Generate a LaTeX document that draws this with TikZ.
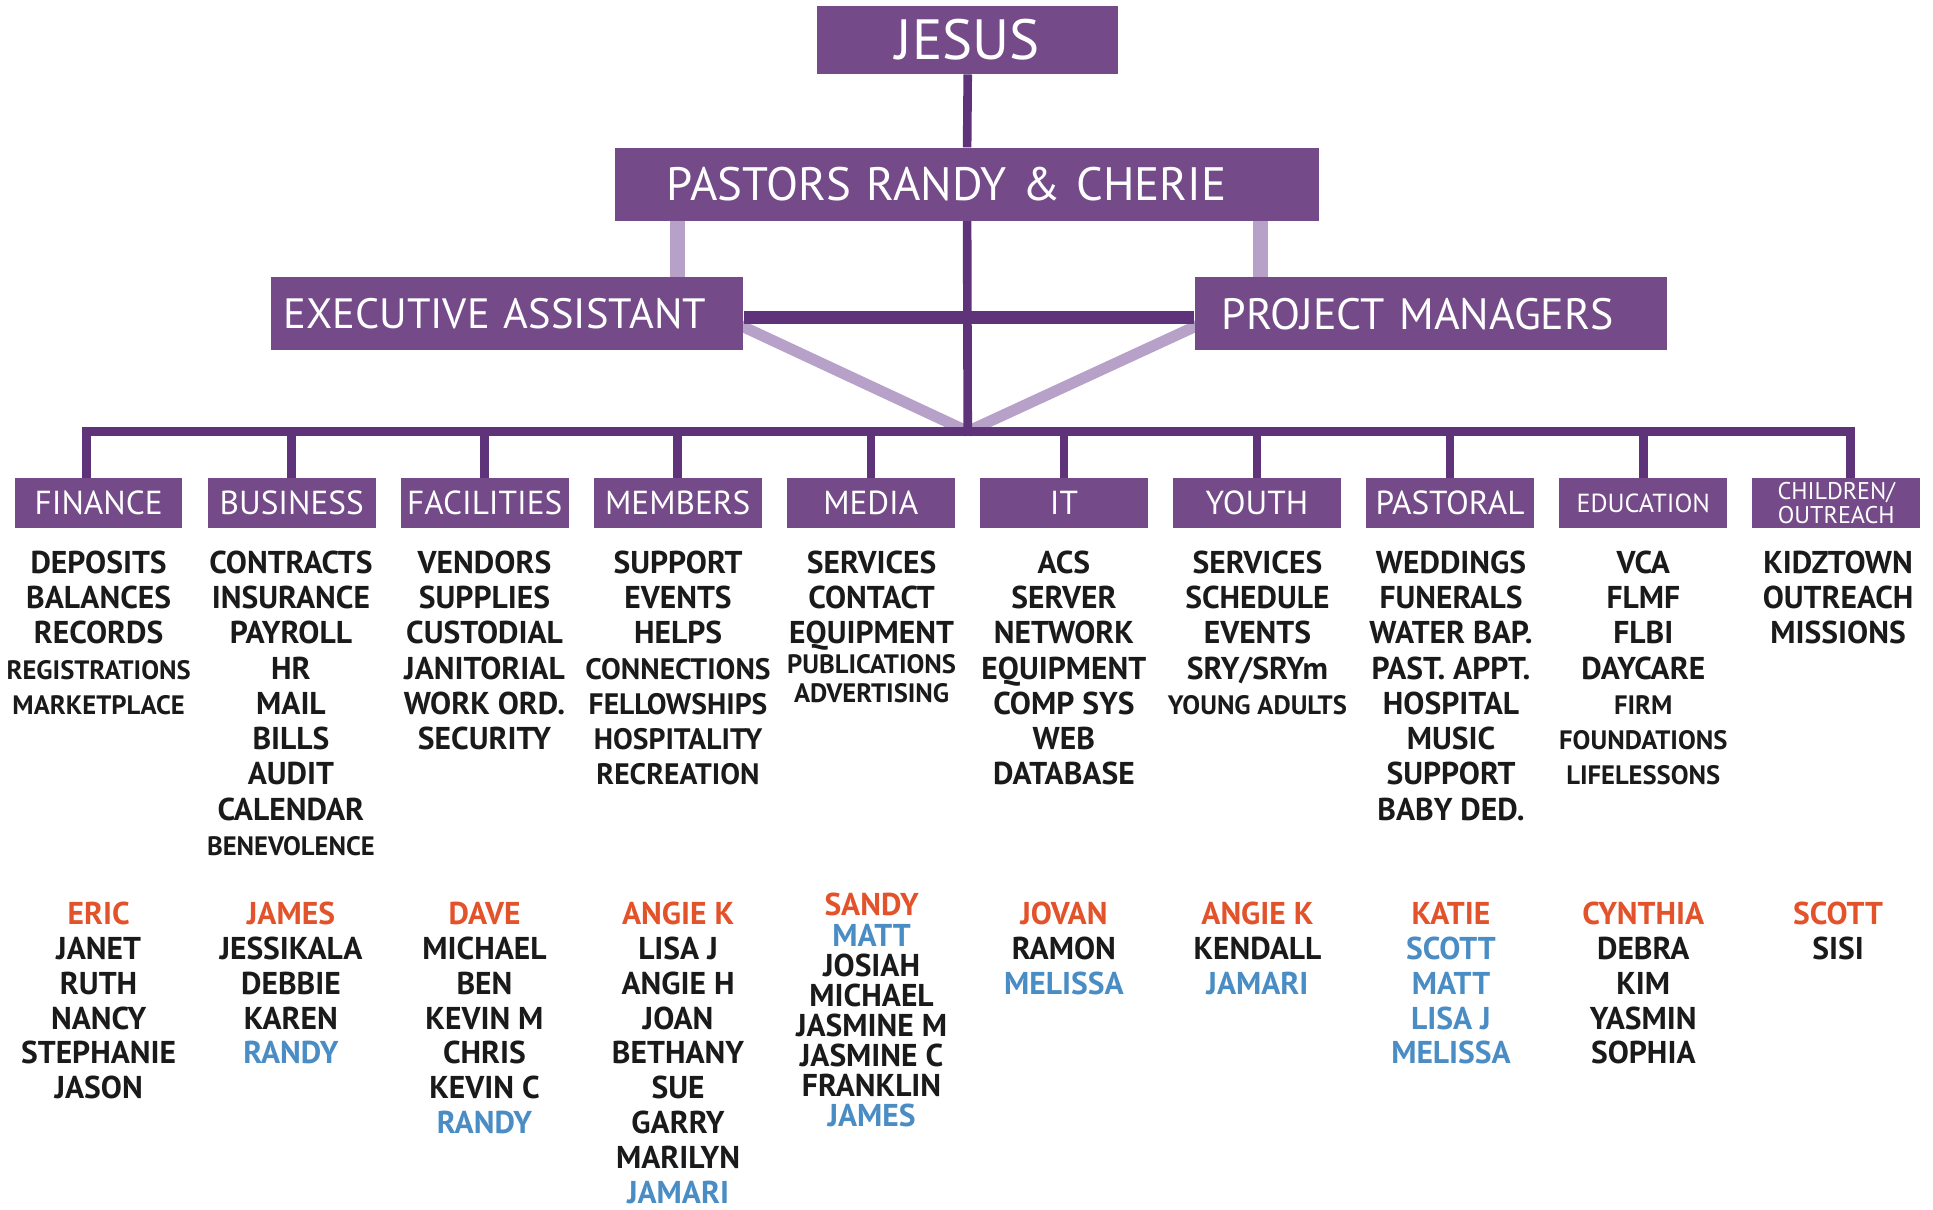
\documentclass[tikz,border=0pt]{standalone}
\usepackage{fontspec}
\setmainfont{PT Sans}
\usepackage{xcolor}
\usepackage{tikz}
\usetikzlibrary{backgrounds}

\definecolor{boxpurple}{HTML}{744A89}
\definecolor{darkpurple}{HTML}{5E3379}
\definecolor{lightpurple}{HTML}{B7A1C9}
\definecolor{leadred}{HTML}{E2532B}
\definecolor{helpblue}{HTML}{4A8CC4}
\definecolor{inkblack}{HTML}{1A1A1A}

\newcommand{\leadname}[1]{\textcolor{leadred}{#1}}
\newcommand{\helpname}[1]{\textcolor{helpblue}{#1}}
\newcommand{\smitem}[1]{{\fontsize{10.8}{10.8}\selectfont #1}}
\newcommand{\mditem}[1]{{\fontsize{12}{12}\selectfont #1}}

\tikzset{
  topbox/.style={fill=boxpurple, text=white, inner ysep=0pt, minimum height=29.5pt},
  deptbox/.style={fill=boxpurple, text=white, inner sep=0pt, minimum width=68pt, minimum height=20pt, font=\fontsize{13.5}{13.5}\selectfont},
  item/.style={anchor=base, inner sep=0pt, text=inkblack, font=\bfseries\fontsize{12.8}{12.8}\selectfont},
  darkline/.style={draw=darkpurple, line width=3.5pt},
  lightline/.style={draw=lightpurple, line width=6pt},
}

\begin{document}
\begin{tikzpicture}[x=0.5pt, y=-0.5pt]
		\useasboundingbox (0,0) rectangle (1568,981);
		
		% top of the chart
		\node[topbox, minimum width=122pt, minimum height=27.5pt, inner xsep=0pt, font=\fontsize{23}{23}\selectfont] (jesus) at (785,32.5) {JESUS};
		\node[topbox, text width=243.5pt, inner xsep=21pt, align=left, font=\fontsize{19}{19}\selectfont] (pastors) at (784.5,149.5) {PASTORS RANDY \& CHERIE};
		\node[topbox, text width=181.5pt, inner xsep=5pt, align=left, font=\fontsize{17.2}{17.2}\selectfont] (exec) at (411.5,254.5) {EXECUTIVE ASSISTANT};
		\node[topbox, text width=169.5pt, inner xsep=11pt, align=left, font=\fontsize{17.8}{17.8}\selectfont] (projects) at (1160.5,254.5) {PROJECT MANAGERS};
		
		% departments
		\foreach \dept/\lbl [count=\i from 0] in {fin/FINANCE, busi/BUSINESS, fac/FACILITIES, mem/MEMBERS, med/MEDIA, it/IT, you/YOUTH, pas/PASTORAL}
			\node[deptbox] (\dept) at (80+156.6*\i,408) {\lbl};
		\node[deptbox, font=\fontsize{10.6}{10.6}\selectfont] (edu) at (1333,408) {EDUCATION};
		\node[deptbox, align=center, font=\fontsize{9.8}{9.5}\selectfont] (kid) at (1489.5,408) {CHILDREN/\\OUTREACH};
		
		\coordinate (hub) at (785,350);
		\coordinate (busL) at (70,350);
		\coordinate (busR) at (1501,350);
		
		\begin{scope}[on background layer]
			\draw[lightline] ([xshift=-27pt]exec.north east) -- ([xshift=-27pt]exec.north east |- pastors.south);
			\draw[lightline] ([xshift=27pt]projects.north west) -- ([xshift=27pt]projects.north west |- pastors.south);
			\draw[lightline, line width=4.5pt] ([xshift=-3pt,yshift=-4pt]exec.east) -- (hub);
			\draw[lightline, line width=4.5pt] ([xshift=3pt,yshift=-4pt]projects.west) -- (hub);
			\draw[darkline, line width=5pt] ([yshift=-1.5pt]exec.east) -- ([yshift=-1.5pt]projects.west);
			\draw[darkline] (jesus.south) -- (pastors.north);
			\draw[darkline] (pastors.south) -- (hub);
			\draw[darkline, line cap=rect] (busL) -- (busR);
			\draw[darkline] (busL) -- (busL |- fin.north);
			\foreach \d in {busi,fac,mem,med,it,you,pas,edu}
				\draw[darkline] (\d.north) -- (\d.north |- hub);
			\draw[darkline] (busR) -- (busR |- kid.north);
		\end{scope}
		
		% duties
		\foreach \t [count=\k from 0] in {DEPOSITS,BALANCES,RECORDS,\smitem{REGISTRATIONS},\smitem{MARKETPLACE}}
			\node[item] (fin-t\k) at (80,465+28.6*\k) {\t};
		\foreach \t [count=\k from 0] in {CONTRACTS,INSURANCE,PAYROLL,HR,MAIL,BILLS,AUDIT,CALENDAR,\smitem{BENEVOLENCE}}
			\node[item] (busi-t\k) at (236,465+28.6*\k) {\t};
		\foreach \t [count=\k from 0] in {VENDORS,SUPPLIES,CUSTODIAL,JANITORIAL,WORK ORD.,SECURITY}
			\node[item] (fac-t\k) at (393,465+28.6*\k) {\t};
		\foreach \t [count=\k from 0] in {SUPPORT,EVENTS,HELPS,\mditem{CONNECTIONS},\mditem{FELLOWSHIPS},\mditem{HOSPITALITY},\mditem{RECREATION}}
			\node[item] (mem-t\k) at (550,465+28.6*\k) {\t};
		\foreach \t [count=\k from 0] in {SERVICES,CONTACT,EQUIPMENT}
			\node[item] (med-t\k) at (707,465+28.6*\k) {\t};
		\node[item] (med-t3) at (707,546) {\smitem{PUBLICATIONS}};
		\node[item] (med-t4) at (707,570) {\smitem{ADVERTISING}};
		\foreach \t [count=\k from 0] in {ACS,SERVER,NETWORK,EQUIPMENT,COMP SYS,WEB,DATABASE}
			\node[item] (it-t\k) at (863,465+28.6*\k) {\t};
		\foreach \t [count=\k from 0] in {SERVICES,SCHEDULE,EVENTS,SRY/SRYm,\smitem{YOUNG ADULTS}}
			\node[item] (you-t\k) at (1020,465+28.6*\k) {\t};
		\foreach \t [count=\k from 0] in {WEDDINGS,FUNERALS,WATER BAP.,PAST. APPT.,HOSPITAL,MUSIC,SUPPORT,BABY DED.}
			\node[item] (pas-t\k) at (1177,465+28.6*\k) {\t};
		\foreach \t [count=\k from 0] in {VCA,FLMF,FLBI,DAYCARE,\smitem{FIRM},\smitem{FOUNDATIONS},\smitem{LIFELESSONS}}
			\node[item] (edu-t\k) at (1333,465+28.6*\k) {\t};
		\foreach \t [count=\k from 0] in {KIDZTOWN,OUTREACH,MISSIONS}
			\node[item] (kid-t\k) at (1491,465+28.6*\k) {\t};
		
		% people
		\foreach \t [count=\k from 0] in {\leadname{ERIC},JANET,RUTH,NANCY,STEPHANIE,JASON}
			\node[item] (fin-n\k) at (80,750+28.25*\k) {\t};
		\foreach \t [count=\k from 0] in {\leadname{JAMES},JESSIKALA,DEBBIE,KAREN,\helpname{RANDY}}
			\node[item] (busi-n\k) at (236,750+28.25*\k) {\t};
		\foreach \t [count=\k from 0] in {\leadname{DAVE},MICHAEL,BEN,KEVIN M,CHRIS,KEVIN C,\helpname{RANDY}}
			\node[item] (fac-n\k) at (393,750+28.25*\k) {\t};
		\foreach \t [count=\k from 0] in {\leadname{ANGIE K},LISA J,ANGIE H,JOAN,BETHANY,SUE,GARRY,MARILYN,\helpname{JAMARI}}
			\node[item] (mem-n\k) at (550,750+28.25*\k) {\t};
		\foreach \t [count=\k from 0] in {\leadname{SANDY},\helpname{MATT},JOSIAH,MICHAEL,JASMINE M,JASMINE C,FRANKLIN,\helpname{JAMES}}
			\node[item] (med-n\k) at (707,743+24.4*\k) {\t};
		\foreach \t [count=\k from 0] in {\leadname{JOVAN},RAMON,\helpname{MELISSA}}
			\node[item] (it-n\k) at (863,750+28.25*\k) {\t};
		\foreach \t [count=\k from 0] in {\leadname{ANGIE K},KENDALL,\helpname{JAMARI}}
			\node[item] (you-n\k) at (1020,750+28.25*\k) {\t};
		\foreach \t [count=\k from 0] in {\leadname{KATIE},\helpname{SCOTT},\helpname{MATT},\helpname{LISA J},\helpname{MELISSA}}
			\node[item] (pas-n\k) at (1177,750+28.25*\k) {\t};
		\foreach \t [count=\k from 0] in {\leadname{CYNTHIA},DEBRA,KIM,YASMIN,SOPHIA}
			\node[item] (edu-n\k) at (1333,750+28.25*\k) {\t};
		\foreach \t [count=\k from 0] in {\leadname{SCOTT},SISI}
			\node[item] (kid-n\k) at (1491,750+28.25*\k) {\t};
	\end{tikzpicture}
\end{document}
